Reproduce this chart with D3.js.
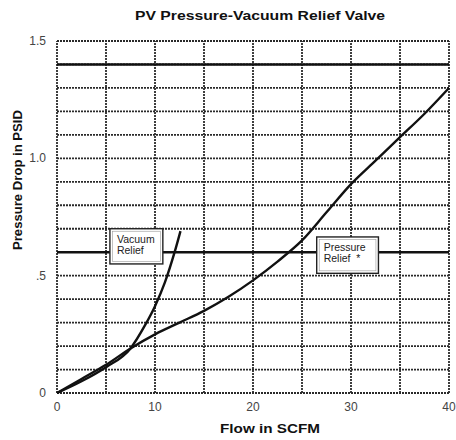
<!DOCTYPE html>
<html><head><meta charset="utf-8">
<script src="https://cdn.jsdelivr.net/npm/d3@7"></script>
<style>body{margin:0;background:#fff}svg{display:block}</style>
</head><body>
<svg id="c" width="456" height="440"></svg>
<script>
const title = "PV Pressure-Vacuum Relief Valve";
const xTitle = "Flow in SCFM";
const yTitle = "Pressure Drop in PSID";
const xTicks = [0, 10, 20, 30, 40];
const xTickLabels = ["0", "10", "20", "30", "40"];
const yTicks = [0, 0.5, 1.0, 1.5];
const yTickLabels = ["0", ".5", "1.0", "1.5"];
const xGrid = [0, 5, 10, 15, 20, 25, 30, 35, 40];
const yGrid = [0, 0.1, 0.2, 0.3, 0.4, 0.5, 0.6, 0.7, 0.8, 0.9, 1.0, 1.1, 1.2, 1.3, 1.4, 1.5];
const refLines = [1.4, 0.6];
const pressureFlow = [0, 2.5, 5, 7.5, 10, 12.5, 15, 17.5, 20, 22.5, 25, 27.5, 30, 32.5, 35, 37.5, 40];
const pressureDrop = [0, 0.06, 0.12, 0.19, 0.25, 0.30, 0.35, 0.41, 0.48, 0.56, 0.65, 0.77, 0.89, 0.99, 1.09, 1.19, 1.30];
const vacuumFlow = [0, 2.5, 5, 7.5, 9, 10, 11, 12, 12.6];
const vacuumDrop = [0, 0.05, 0.11, 0.19, 0.29, 0.37, 0.47, 0.60, 0.69];
const labels = [
  {lines: ["Vacuum", "Relief"], x0: 5.4, x1: 10.8, y0: 0.70, y1: 0.55},
  {lines: ["Pressure", "Relief  *"], x0: 26.5, x1: 32.8, y0: 0.665, y1: 0.51}
];

const svg = d3.select("#c");
const x = d3.scaleLinear().domain([0, 40]).range([57, 449]);
const y = d3.scaleLinear().domain([0, 1.5]).range([393, 41]);
const font = "'Liberation Sans', Arial, sans-serif";

// grid
const g = svg.append("g");
g.selectAll("line.h").data(yGrid).join("line")
  .attr("x1", x(0)).attr("x2", x(40))
  .attr("y1", d => y(d)).attr("y2", d => y(d))
  .attr("stroke", "#2a2a2a").attr("stroke-width", 1.8).attr("stroke-dasharray", "2,1");
g.selectAll("line.v").data(xGrid).join("line")
  .attr("y1", y(0)).attr("y2", y(1.5))
  .attr("x1", d => x(d)).attr("x2", d => x(d))
  .attr("stroke", "#2a2a2a").attr("stroke-width", 1.8).attr("stroke-dasharray", "2,1");
g.selectAll("line.r").data(refLines).join("line")
  .attr("x1", x(0)).attr("x2", x(40))
  .attr("y1", d => y(d)).attr("y2", d => y(d))
  .attr("stroke", "#111").attr("stroke-width", 2.4);

// curves
const line = d3.line().x(d => x(d[0])).y(d => y(d[1])).curve(d3.curveMonotoneX);
svg.append("path").datum(pressureFlow.map((f, i) => [f, pressureDrop[i]]))
  .attr("d", line).attr("fill", "none").attr("stroke", "#111").attr("stroke-width", 2.4);
svg.append("path").datum(vacuumFlow.map((f, i) => [f, vacuumDrop[i]]))
  .attr("d", line).attr("fill", "none").attr("stroke", "#111").attr("stroke-width", 2.4);

// label boxes
labels.forEach(l => {
  const bx = x(l.x0), by = y(l.y0), bw = x(l.x1) - x(l.x0), bh = y(l.y1) - y(l.y0);
  svg.append("rect").attr("x", bx).attr("y", by).attr("width", bw).attr("height", bh)
    .attr("fill", "#fff").attr("stroke", "#222").attr("stroke-width", 1.4);
  svg.append("rect").attr("x", bx + 2.5).attr("y", by + 2.5).attr("width", bw - 5).attr("height", bh - 5)
    .attr("fill", "none").attr("stroke", "#999").attr("stroke-width", 0.6);
  l.lines.forEach((t, i) => {
    svg.append("text").attr("x", bx + 7).attr("y", by + 14 + i * 11)
      .attr("font-family", font).attr("font-size", 10.5).attr("fill", "#222")
      .attr("xml:space", "preserve").text(t);
  });
});

// axes tick labels
svg.selectAll("text.xt").data(xTicks).join("text")
  .attr("x", d => x(d)).attr("y", 411).attr("text-anchor", "middle")
  .attr("font-family", font).attr("font-size", 12).attr("fill", "#444")
  .text((d, i) => xTickLabels[i]);
svg.selectAll("text.yt").data(yTicks).join("text")
  .attr("x", 46).attr("y", d => y(d) + 4).attr("text-anchor", "end")
  .attr("font-family", font).attr("font-size", 12).attr("fill", "#444")
  .text((d, i) => yTickLabels[i]);

// titles
svg.append("text").attr("x", 260).attr("y", 20).attr("text-anchor", "middle")
  .attr("font-family", font).attr("font-size", 12).attr("font-weight", "bold").attr("fill", "#111")
  .attr("textLength", 250).attr("lengthAdjust", "spacingAndGlyphs").text(title);
svg.append("text").attr("x", 270).attr("y", 433).attr("text-anchor", "middle")
  .attr("font-family", font).attr("font-size", 12).attr("font-weight", "bold").attr("fill", "#111")
  .attr("textLength", 100).attr("lengthAdjust", "spacingAndGlyphs").text(xTitle);
svg.append("text").attr("transform", "translate(22,180) rotate(-90)").attr("text-anchor", "middle")
  .attr("font-family", font).attr("font-size", 12).attr("font-weight", "bold").attr("fill", "#111")
  .attr("textLength", 140).attr("lengthAdjust", "spacingAndGlyphs").text(yTitle);
</script>
</body></html>
